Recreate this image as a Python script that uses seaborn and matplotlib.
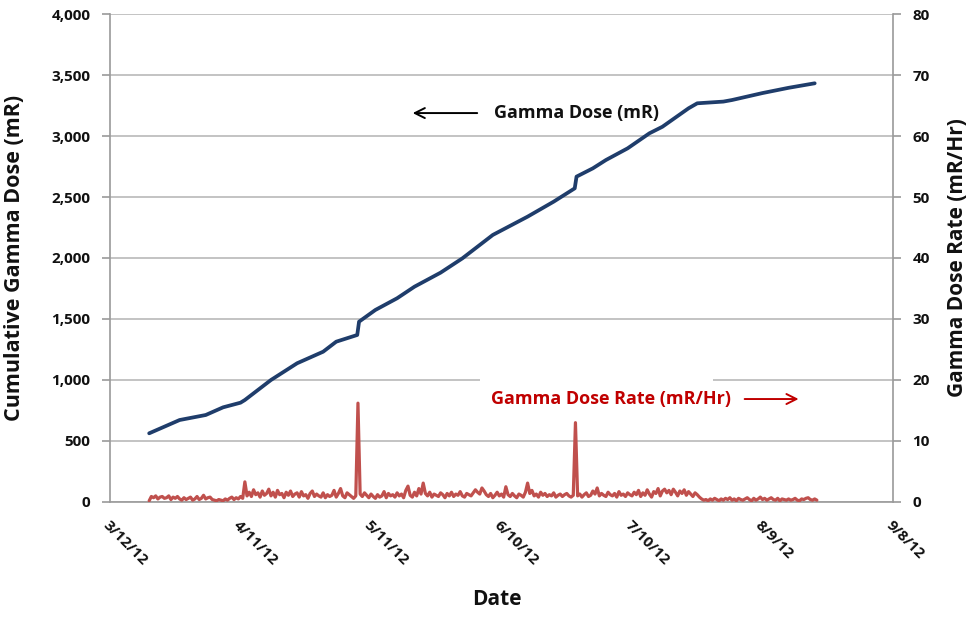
import matplotlib
matplotlib.use("Agg")
import matplotlib.pyplot as plt
import matplotlib.dates as mdates
from matplotlib.ticker import FuncFormatter, MultipleLocator
from matplotlib.patches import Rectangle
import seaborn as sns
import pandas as pd
import numpy as np

# ---------------- data ----------------
dose_dates = ["2012-03-21 00:00", "2012-03-28 00:00", "2012-04-03 00:00", "2012-04-07 00:00",
              "2012-04-11 00:00", "2012-04-12 00:00", "2012-04-18 00:00", "2012-04-24 00:00",
              "2012-04-30 00:00", "2012-05-03 00:00", "2012-05-07 20:00", "2012-05-08 06:00",
              "2012-05-12 00:00", "2012-05-17 00:00", "2012-05-21 00:00", "2012-05-27 00:00",
              "2012-06-01 00:00", "2012-06-08 00:00", "2012-06-16 00:00", "2012-06-22 00:00",
              "2012-06-26 20:00", "2012-06-27 06:00", "2012-07-01 00:00", "2012-07-04 00:00",
              "2012-07-09 00:00", "2012-07-14 00:00", "2012-07-17 00:00", "2012-07-23 00:00",
              "2012-07-25 00:00", "2012-07-31 00:00", "2012-08-02 00:00", "2012-08-09 00:00",
              "2012-08-15 00:00", "2012-08-21 00:00"]
dose_values = [563, 672, 713, 776,
               814, 836, 1000, 1137,
               1232, 1314, 1369, 1478,
               1574, 1670, 1765, 1880,
               1997, 2189, 2339, 2462,
               2571, 2667, 2735, 2803,
               2899, 3022, 3076, 3227,
               3268, 3282, 3295, 3352,
               3395, 3432]

rate_start = "2012-03-21 00:00"
rate_values = [
    0.2, 0.9, 0.7, 1.0, 0.5, 0.8, 0.9, 0.6, 0.7, 1.0, 0.4, 0.8, 0.6, 0.9,
    0.5, 0.3, 0.7, 0.4, 0.6, 0.8, 0.3, 0.5, 0.9, 0.4, 0.6, 1.1, 0.5, 0.7,
    0.8, 0.4, 0.3, 0.2, 0.4, 0.3, 0.2, 0.5, 0.3, 0.6, 0.8, 0.4, 0.7, 0.5,
    0.9, 0.6, 3.3, 1.0, 1.6, 0.9, 2.0, 1.2, 1.5, 0.8, 1.8, 1.1, 1.4, 2.1,
    1.0, 1.6, 0.8, 1.9, 1.2, 1.4, 0.7, 1.6, 1.1, 1.8, 0.9, 1.3, 1.5, 0.8,
    1.7, 1.0, 1.2, 0.6, 1.4, 1.8, 0.9, 1.3, 1.0, 0.8, 1.5, 0.7, 1.2, 0.9,
    1.1, 1.9, 0.8, 1.4, 2.2, 1.0, 0.7, 1.5, 1.2, 0.9, 0.6, 1.0, 16.2, 1.3,
    0.9, 1.5, 1.1, 0.7, 1.3, 0.9, 0.6, 1.2, 0.8, 1.0, 1.7, 0.7, 1.4, 1.0,
    1.2, 0.8, 1.5, 1.0, 1.3, 0.7, 1.9, 2.6, 1.1, 0.8, 1.6, 1.0, 2.2, 1.3,
    3.1, 1.4, 1.0, 1.6, 0.8, 1.3, 1.1, 0.9, 1.5, 1.2, 0.7, 1.4, 1.0, 1.6,
    0.9, 1.3, 1.1, 1.7, 1.0, 0.8, 1.4, 1.2, 1.0, 1.5, 2.0, 1.6, 1.3, 2.3,
    1.8, 1.2, 0.9, 1.4, 0.7, 1.1, 1.6, 1.0, 1.3, 0.8, 2.5, 1.2, 0.9, 1.4,
    1.0, 0.7, 1.3, 1.1, 0.8, 1.6, 3.1, 1.4, 1.9, 1.0, 1.3, 0.8, 1.6, 1.1,
    1.4, 0.9, 1.2, 1.0, 1.5, 0.8, 1.1, 1.3, 0.9, 1.2, 1.4, 1.0, 0.8, 1.1,
    13.0, 1.0, 1.3, 0.8, 1.2, 1.5, 0.9, 1.1, 1.8, 1.3, 2.3, 1.0, 1.4, 1.1,
    0.9, 1.6, 1.2, 1.0, 1.4, 0.8, 1.7, 1.1, 1.3, 0.9, 1.5, 1.2, 1.0, 1.6,
    1.2, 1.9, 0.9, 1.5, 1.1, 2.0, 1.3, 0.8, 1.7, 1.4, 2.2, 1.0, 1.8, 2.1,
    1.5, 1.9, 1.2, 2.1, 1.6, 1.0, 1.8, 1.4, 2.0, 1.1, 1.7, 1.3, 0.9, 1.5,
    1.2, 0.8, 0.5, 0.3, 0.4, 0.2, 0.5, 0.3, 0.6, 0.4, 0.2, 0.5, 0.3, 0.6,
    0.4, 0.7, 0.3, 0.5, 0.2, 0.6, 0.4, 0.3, 0.5, 0.7, 0.4, 0.2, 0.6, 0.3,
    0.5, 0.8, 0.4, 0.6, 0.3, 0.5, 0.7, 0.4, 0.3, 0.6, 0.2, 0.5, 0.4, 0.3,
    0.5, 0.3, 0.4, 0.6, 0.3, 0.2, 0.5, 0.4, 0.6, 0.7, 0.4, 0.3, 0.5, 0.3,
]
x_tick_labels = ["3/12/12", "4/11/12", "5/11/12", "6/10/12", "7/10/12", "8/9/12", "9/8/12"]

# ---------------- build frames ----------------
dose_df = pd.DataFrame({"Date": pd.to_datetime(dose_dates, format="%Y-%m-%d %H:%M"),
                        "Dose": dose_values})
rate_df = pd.DataFrame({
    "Date": pd.date_range(rate_start, periods=len(rate_values), freq="12h"),
    "Rate": rate_values,
})
xticks = pd.to_datetime(x_tick_labels, format="%m/%d/%y")

# ---------------- style ----------------
sns.set_theme(style="white")
plt.rcParams["font.family"] = ["Open Sans", "DejaVu Sans"]
plt.rcParams["font.weight"] = "bold"

fig = plt.figure(figsize=(9.72, 6.17), dpi=100)
ax = fig.add_axes([0.1132, 0.1864, 0.8055, 0.7909])
ax2 = ax.twinx()

grid_c = "#BEBEBE"
spine_c = "#9A9A9A"

ax.set_axisbelow(True)
ax.yaxis.grid(True, color=grid_c, linewidth=1.3)
ax.xaxis.grid(False)

# white text box that covers gridline behind the rate label
ax.add_patch(Rectangle((0.4725, 0.235), 0.2975, 0.04, transform=ax.transAxes,
                       facecolor="white", edgecolor="none", zorder=1))

sns.lineplot(data=dose_df, x="Date", y="Dose", ax=ax, color="#1F3D6B",
             linewidth=2.7, zorder=3)
sns.lineplot(data=rate_df, x="Date", y="Rate", ax=ax2, color="#C0504D",
             linewidth=2.3, zorder=3)

ax.set_xlim(xticks[0], xticks[-1])
ax.set_ylim(0, 4000)
ax2.set_ylim(0, 80)
ax.yaxis.set_major_locator(MultipleLocator(500))
ax2.yaxis.set_major_locator(MultipleLocator(10))
ax.set_xticks(xticks)
ax.xaxis.set_major_formatter(FuncFormatter(
    lambda v, p: (lambda d: f"{d.month}/{d.day}/{d.year % 100}")(mdates.num2date(v))))
ax.yaxis.set_major_formatter(FuncFormatter(lambda v, p: f"{int(v):,}"))

for a in (ax, ax2):
    for s in a.spines.values():
        s.set_visible(False)
ax.spines["left"].set_visible(True)
ax.spines["bottom"].set_visible(True)
ax2.spines["right"].set_visible(True)
for s in (ax.spines["left"], ax.spines["bottom"], ax2.spines["right"]):
    s.set_color(spine_c)
    s.set_linewidth(1.2)

ax.tick_params(axis="both", which="major", direction="out", length=6, width=1.2,
               color=spine_c, labelsize=11, labelcolor="#111111")
ax2.tick_params(axis="y", which="major", direction="out", length=6, width=1.2,
                color=spine_c, labelsize=11, labelcolor="#111111", pad=8)
ax.tick_params(axis="y", pad=8)
ax.tick_params(axis="x", pad=6)
for lab in ax.get_xticklabels():
    lab.set_rotation(-45)
    lab.set_ha("left")
    lab.set_va("top")
    lab.set_rotation_mode("anchor")
    lab.set_fontweight("bold")
for lab in ax.get_yticklabels() + ax2.get_yticklabels():
    lab.set_fontweight("bold")

ax.set_xlabel("Date", fontsize=15, fontweight="bold", color="#111111")
ax.xaxis.set_label_coords(0.494, -0.20)
ax.xaxis.label.set_va("center")
ax.set_ylabel("Cumulative Gamma Dose (mR)", fontsize=15.5, fontweight="bold",
              color="#111111")
ax.yaxis.set_label_coords(-0.108, 0.5)
ax2.set_ylabel("Gamma Dose Rate (mR/Hr)", fontsize=15, fontweight="bold",
               color="#111111", rotation=90)
ax2.yaxis.set_label_coords(1.082, 0.5)
ax2.yaxis.label.set_va("center")
ax2.yaxis.label.set_ha("center")

# annotations
ax.annotate("", xy=(0.383, 0.797), xytext=(0.4725, 0.797), xycoords="axes fraction",
            arrowprops=dict(arrowstyle="->", color="black", lw=1.4,
                            mutation_scale=18), zorder=5)
ax.text(0.491, 0.797, "Gamma Dose (mR)", transform=ax.transAxes, fontsize=13,
        fontweight="bold", color="#111111", ha="left", va="center", zorder=5)
ax.text(0.487, 0.211, "Gamma Dose Rate (mR/Hr)", transform=ax.transAxes, fontsize=13,
        fontweight="bold", color="#C00000", ha="left", va="center", zorder=5)
ax.annotate("", xy=(0.883, 0.211), xytext=(0.807, 0.211), xycoords="axes fraction",
            arrowprops=dict(arrowstyle="->", color="#C00000", lw=1.4,
                            mutation_scale=18), zorder=5)

fig.savefig("out.png", dpi=100)
